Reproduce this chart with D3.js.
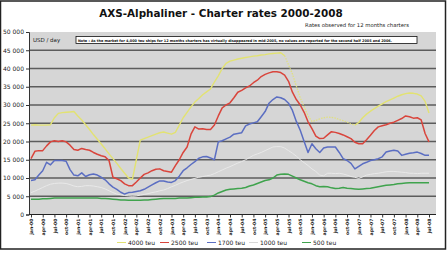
<!DOCTYPE html>
<html><head><meta charset="utf-8">
<script src="https://cdn.jsdelivr.net/npm/d3@7"></script>
<style>html,body{margin:0;padding:0;background:#fff;}svg{display:block;}</style>
</head><body>
<svg id="c" width="448" height="254"></svg>
<script>
// ---- data (monthly, jan-00 .. jul-08), USD/day ----
const seriesNames = ["4000 teu","2500 teu","1700 teu","1000 teu","500 teu"];
const seriesColors = ["#e2e272","#d9453c","#5b6ec2","#e9e9e9","#3fa34d"];
const tickLabels = (function(){const m=["jan","apr","jul","oct"],o=[];for(let y=0;y<=8;y++)for(let q=0;q<4;q++){if(y===8&&q>2)break;o.push(m[q]+"-0"+y);}return o;})();
const yTicks = [0,5000,10000,15000,20000,25000,30000,35000,40000,45000,50000];

const teu4000 = [24500,24600,24500,24500,24500,24600,26500,27700,27900,28000,28100,28200,
27000,25900,24600,23300,21900,20600,19300,18000,16600,15300,14000,12600,
11300,10000,9700,15000,20400,20800,21200,21600,22000,22400,22600,22300,
22000,22500,24500,26500,28000,29500,30800,31800,32800,33600,34400,36300,
38000,40000,41400,42000,42300,42600,42800,43000,43200,43400,43500,43700,
43800,44000,44100,44200,44300,43500,41000,38500,35200,32000,29500,27000,
25500,25800,26200,26500,26700,26600,26400,26000,25700,25300,24800,24500,
25200,26500,27500,28300,29000,29700,30300,30900,31400,31900,32400,32800,
33100,33300,33200,33000,32500,31000,27800];
const teu2500 = [15300,17300,17500,17500,18800,19900,20200,20000,20200,19900,19000,17800,
17600,18100,17800,17600,17000,16500,16100,15800,14800,10200,9800,9300,
8400,7900,7900,8900,10000,11000,11400,12000,12400,12500,12000,11800,
11600,13400,15000,17000,18500,22000,24000,23400,23500,23300,23300,24500,
27000,29200,30000,30600,32000,33500,34000,34700,35200,36100,36800,37800,
38400,38800,39100,39100,38900,38200,36500,33500,31500,30000,28000,25400,
23500,21500,20800,20900,21800,22700,22500,22200,21800,21300,20800,19800,
19400,19400,20500,21700,23000,24000,24300,24600,25000,25300,25800,26300,
27000,26800,26400,26500,25900,22200,19900];
const teu1700 = [9300,9500,10800,12000,14300,13600,14800,14800,14800,14600,12300,10800,
10600,11400,10400,10900,11100,10800,10200,9500,8400,7500,6900,6100,
5600,6000,6100,6300,6500,6900,7500,8100,8700,9200,9200,8900,
8800,9300,10500,12000,12800,13700,14500,15400,15800,15900,15500,15000,
19900,20200,20700,21200,22000,22200,22400,24300,24800,25100,25400,26800,
28200,30500,31500,32200,32000,31500,30500,28500,25500,23100,20000,17000,
19400,18000,17000,18200,18500,18500,18500,17000,15300,14800,14000,12500,
13200,13900,14300,14800,15000,15300,15800,17100,17400,17600,17400,16200,
16500,16800,16900,17100,16700,16200,16200];
const teu1000 = [6000,6400,6900,7400,7900,8300,8500,8600,8600,8500,8200,7800,
7600,7700,7900,7900,7800,7600,7400,7000,6500,6000,5600,5400,
5200,5100,5000,5100,5300,5500,5700,6000,6200,6500,6700,7100,
7600,8000,8500,8900,9300,9600,9900,10200,10400,10600,10800,11200,
11700,12200,12700,13100,13600,14100,14500,15000,15600,16200,16600,17000,
17500,18000,18500,18600,18600,18200,17500,16800,16000,15000,14200,13400,
12500,11800,10800,10600,11300,11300,11200,11300,11100,10800,10400,10200,
9900,10300,10800,11000,11200,11300,11500,11700,11800,11800,11700,11600,
11500,11300,11300,11200,11300,11300,11300];
const teu500 = [4200,4200,4200,4300,4300,4400,4500,4500,4500,4500,4500,4500,
4500,4500,4500,4500,4500,4500,4400,4400,4300,4200,4100,4000,
4000,3900,3900,3900,3900,4000,4000,4100,4200,4300,4400,4400,
4400,4400,4500,4500,4500,4600,4700,4700,4800,4800,4900,5300,
5900,6300,6700,6900,7000,7100,7200,7400,7800,8100,8500,8900,
9300,9500,10000,10800,11000,11100,11000,10500,10000,9500,9100,8700,
8400,7900,7600,7700,7600,7300,7100,7200,7400,7200,7100,7000,
6900,7000,7100,7200,7400,7600,7800,8000,8100,8200,8400,8500,
8600,8700,8700,8700,8700,8700,8700];
const seriesData = [teu4000,teu2500,teu1700,teu1000,teu500];

// ---- drawing ----
const svg = d3.select("#c");
const font = "DejaVu Sans, Verdana, sans-serif";
const x = d3.scaleLinear().domain([0,102]).range([31,429]);
const y = d3.scaleLinear().domain([0,50000]).range([214.5,32]);
const plotL = 29, plotR = 436;

// frame
svg.append("rect").attr("x",0.5).attr("y",1).attr("width",445).attr("height",248)
  .attr("fill","#fff").attr("stroke","#222").attr("stroke-width",1.5);

// title
svg.append("text").attr("x",221).attr("y",17).attr("text-anchor","middle")
  .attr("font-family",font).attr("font-weight","bold").attr("font-size",10.4)
  .attr("fill","#111").text("AXS-Alphaliner - Charter rates 2000-2008");
svg.append("text").attr("x",357).attr("y",27).attr("text-anchor","middle")
  .attr("font-family",font).attr("font-size",5.3).attr("fill","#222")
  .text("Rates observed for 12 months charters");

// plot bg
svg.append("rect").attr("x",plotL).attr("y",y(50000)).attr("width",plotR-plotL)
  .attr("height",y(0)-y(50000)).attr("fill","#d6d6d6");

// grid
svg.append("g").selectAll("line").data(yTicks.filter(d=>d>0&&d<50000)).join("line")
  .attr("x1",plotL).attr("x2",plotR).attr("y1",d=>y(d)).attr("y2",d=>y(d))
  .attr("stroke","#5c5c5c").attr("stroke-width",1.6);

// y axis
const ya = svg.append("g").attr("transform",`translate(${plotL},0)`)
  .call(d3.axisLeft(y).tickValues(yTicks).tickSize(3).tickPadding(2)
    .tickFormat(d=>d3.format(",")(d).replace(/,/g," ")));
ya.select(".domain").attr("stroke","#333");
ya.selectAll("line").attr("stroke","#333");
ya.selectAll("text").attr("font-family",font).attr("font-size",6).attr("fill","#222");

// x axis
const xa = svg.append("g").attr("transform",`translate(0,${y(0)})`)
  .call(d3.axisBottom(x).tickValues(d3.range(0,103,3)).tickSize(3)
    .tickFormat((d,i)=>tickLabels[i]));
xa.select(".domain").attr("d",`M${plotL},0H${plotR}`).attr("stroke","#222");
xa.selectAll("line").attr("stroke","#333");
xa.selectAll("text").attr("font-family",font).attr("font-size",4.6).attr("font-weight","bold")
  .attr("fill","#222").attr("text-anchor","end").attr("dy",0)
  .attr("transform","translate(1.6,4) rotate(-90)").attr("x",0).attr("y",0);

// USD/day + note
svg.append("text").attr("x",33).attr("y",42).attr("font-family",font).attr("font-size",5.5)
  .attr("fill","#222").text("USD / day");
svg.append("rect").attr("x",76).attr("y",36.5).attr("width",341).attr("height",7)
  .attr("fill","#fff").attr("stroke","#111").attr("stroke-width",0.8);
svg.append("text").attr("x",78).attr("y",41.6).attr("font-family",font).attr("font-size",3.6)
  .attr("font-weight","bold").attr("fill","#111").attr("textLength",314).attr("lengthAdjust","spacingAndGlyphs")
  .text("Note : As the market for 4,000 teu ships for 12 months charters has virtually disappeared in mid-2005, no values are reported for the second half 2005 and 2006.");

// lines
const line = d3.line().x((d,i)=>x(i)).y(d=>y(d)).curve(d3.curveLinear);
const widths = [1.4,1.5,1.5,1,1.5];
[3,4,2,1].forEach(k=>{
  svg.append("path").attr("d",line(seriesData[k])).attr("fill","none")
    .attr("stroke",seriesColors[k]).attr("stroke-width",widths[k]).attr("stroke-linejoin","round");
});
// 4000 teu: solid where reported, dotted in the unreported span (mid-2005 .. 2006)
const lineDef = d3.line().defined(d=>d.v!=null).x(d=>x(d.i)).y(d=>y(d.v));
const y4 = teu4000.map((v,i)=>({i,v}));
svg.append("path").attr("d",lineDef(y4.map(d=>(d.i<=65||d.i>=83)?d:{i:d.i,v:null})))
  .attr("fill","none").attr("stroke",seriesColors[0]).attr("stroke-width",1.4).attr("stroke-linejoin","round");
svg.append("path").attr("d",lineDef(y4.filter(d=>d.i>=65&&d.i<=83)))
  .attr("fill","none").attr("stroke",seriesColors[0]).attr("stroke-width",1.3)
  .attr("stroke-dasharray","1.5,1.2").attr("opacity",0.85);

// legend
const legX = [117,160,207,249,302];
const lg = svg.append("g");
seriesNames.forEach((n,i)=>{
  lg.append("line").attr("x1",legX[i]).attr("x2",legX[i]+9).attr("y1",242.5).attr("y2",242.5)
    .attr("stroke",i===3?"#d8d8d8":seriesColors[i]).attr("stroke-width",1);
  lg.append("text").attr("x",legX[i]+11).attr("y",244.6).attr("font-family",font)
    .attr("font-size",6).attr("fill","#222").text(n);
});
</script>
</body></html>
